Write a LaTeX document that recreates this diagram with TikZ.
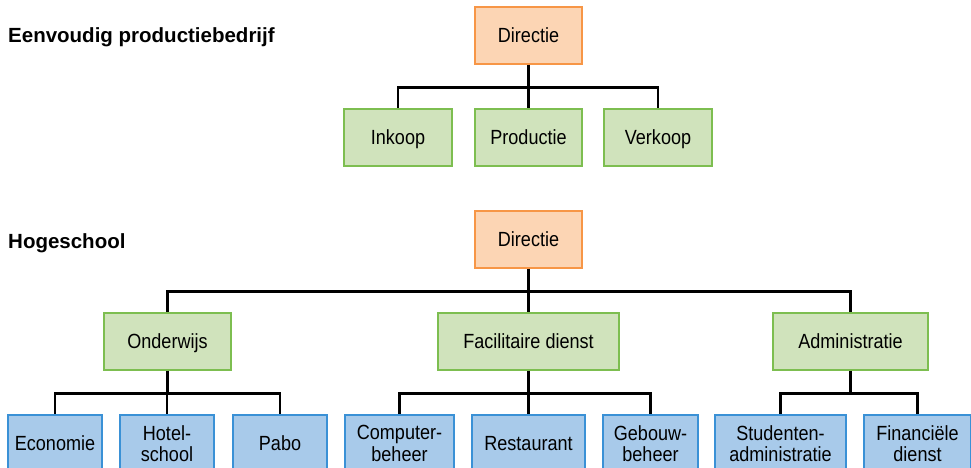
\documentclass[tikz,border=0pt]{standalone}
\usepackage{fontspec}
\setmainfont{Liberation Sans}
\newfontfamily\boxfont[FakeStretch=0.88]{Liberation Sans}
\begin{document}
\begin{tikzpicture}[x=1pt,y=-1pt,
  box/.style={rectangle, line width=1.8pt, minimum height=57pt, inner sep=2pt,
    font=\boxfont\fontsize{20.5}{21.5}\selectfont, align=center},
  one/.style={text height=14.4pt, text depth=0pt},
  obox/.style={box, one, draw={rgb,255:red,247;green,150;blue,70}, fill={rgb,255:red,252;green,213;blue,180}},
  gbox/.style={box, one, draw={rgb,255:red,125;green,190;blue,80}, fill={rgb,255:red,208;green,227;blue,188}},
  bbox/.style={box, draw={rgb,255:red,58;green,145;blue,214}, fill={rgb,255:red,168;green,202;blue,234}},
  conn/.style={line width=2.6pt, black},
  title/.style={anchor=base west, inner sep=0pt, font=\fontsize{20.5}{24}\selectfont\bfseries}
]
\useasboundingbox (0,0) rectangle (971,468);
\clip (0,0) rectangle (971,468);

\node[title] (t1) at (8,43) {Eenvoudig productiebedrijf};
\node[title] (t2) at (8,248) {Hogeschool};

% top chart
\node[obox, minimum width=107pt] (d1) at (528.5,35.5) {Directie};
\node[gbox, minimum width=108pt] (ink) at (398,137.5) {Inkoop};
\node[gbox, minimum width=107pt] (prod) at (528.5,137.5) {Productie};
\node[gbox, minimum width=108pt] (verk) at (658,137.5) {Verkoop};

% bottom chart
\node[obox, minimum width=107pt] (d2) at (528.5,239.5) {Directie};
\node[gbox, minimum width=127pt] (ond) at (167.5,341.5) {Onderwijs};
\node[gbox, minimum width=181pt] (fac) at (528.5,341.5) {Facilitaire dienst};
\node[gbox, minimum width=155pt] (adm) at (850.5,341.5) {Administratie};

\node[bbox, one, minimum width=94pt] (eco) at (55,443.5) {Economie};
\node[bbox, minimum width=94pt] (hot) at (167,443.5) {Hotel-\\school};
\node[bbox, one, minimum width=94pt] (pab) at (280,443.5) {Pabo};
\node[bbox, minimum width=109pt] (comp) at (399.5,443.5) {Computer-\\beheer};
\node[bbox, one, minimum width=113pt] (rest) at (528.5,443.5) {Restaurant};
\node[bbox, minimum width=95pt] (geb) at (650.5,443.5) {Gebouw-\\beheer};
\node[bbox, minimum width=131pt] (stud) at (780.5,443.5) {Studenten-\\administratie};
\node[bbox, minimum width=107pt] (fin) at (917.5,443.5) {Financiële\\dienst};

% connectors
\foreach \c in {ink,prod,verk} \draw[conn] (d1.south) -- ++(0,22.5) -| (\c.north);
\foreach \c in {ond,fac,adm} \draw[conn] (d2.south) -- ++(0,22.5) -| (\c.north);
\foreach \c in {eco,hot,pab} \draw[conn] (ond.south) -- ++(0,22.5) -| (\c.north);
\foreach \c in {comp,rest,geb} \draw[conn] (fac.south) -- ++(0,22.5) -| (\c.north);
\foreach \c in {stud,fin} \draw[conn] (adm.south) -- ++(0,22.5) -| (\c.north);
\end{tikzpicture}
\end{document}
